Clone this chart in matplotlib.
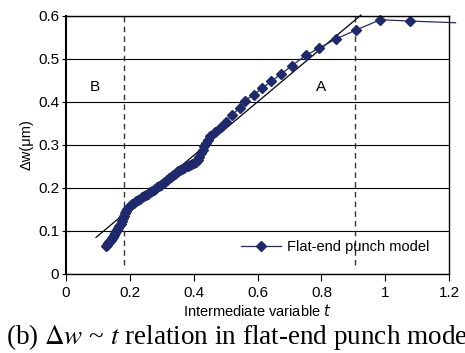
import matplotlib
matplotlib.use('Agg')
import matplotlib.pyplot as plt

# intermediate variable t and deflection change (um)
t_vals = [0.125, 0.128, 0.131, 0.134, 0.137, 0.140, 0.143, 0.146, 0.150, 0.153,
          0.156, 0.160, 0.163, 0.167, 0.171, 0.175, 0.178, 0.181, 0.184, 0.188,
          0.192, 0.197, 0.202, 0.208, 0.214, 0.220, 0.226, 0.232, 0.238, 0.244,
          0.250, 0.256, 0.262, 0.268, 0.274, 0.280, 0.286, 0.292, 0.298, 0.304,
          0.310, 0.316, 0.322, 0.328, 0.334, 0.340, 0.346, 0.352, 0.358, 0.364,
          0.370, 0.376, 0.382, 0.388, 0.394, 0.400, 0.406, 0.412, 0.418, 0.423,
          0.428, 0.433, 0.438, 0.444, 0.452, 0.465, 0.484, 0.502, 0.520, 0.544,
          0.560, 0.588, 0.615, 0.643, 0.674, 0.707, 0.750, 0.793, 0.847, 0.908,
          0.984, 1.077, 1.220]
w_vals = [0.065, 0.068, 0.071, 0.074, 0.077, 0.080, 0.083, 0.087, 0.091, 0.095,
          0.099, 0.103, 0.107, 0.111, 0.117, 0.123, 0.129, 0.135, 0.141, 0.147,
          0.152, 0.156, 0.160, 0.163, 0.166, 0.169, 0.172, 0.175, 0.178, 0.181,
          0.184, 0.187, 0.190, 0.193, 0.195, 0.198, 0.201, 0.204, 0.207, 0.211,
          0.214, 0.218, 0.222, 0.226, 0.230, 0.233, 0.236, 0.239, 0.242, 0.245,
          0.247, 0.250, 0.252, 0.254, 0.256, 0.258, 0.261, 0.266, 0.273, 0.281,
          0.289, 0.297, 0.304, 0.312, 0.320, 0.331, 0.342, 0.354, 0.370, 0.386,
          0.403, 0.417, 0.432, 0.448, 0.465, 0.484, 0.508, 0.525, 0.547, 0.567,
          0.591, 0.588, 0.584]

# straight reference line through both regions
fit_t = [0.094, 0.924]
fit_w = [0.085, 0.602]

# boundaries between region B and region A
bounds = [0.181, 0.906]

navy = '#1f2a6e'

plt.rcParams['font.family'] = ['Liberation Sans', 'DejaVu Sans']

fig = plt.figure(figsize=(4.65, 3.53), dpi=100)
ax = fig.add_axes([0.142, 0.224, 0.824, 0.731])

ax.set_xlim(0, 1.2)
ax.set_ylim(0, 0.6)
ax.set_xticks([0, 0.2, 0.4, 0.6, 0.8, 1.0, 1.2])
ax.set_xticklabels(['0', '0.2', '0.4', '0.6', '0.8', '1', '1.2'])
ax.set_yticks([0, 0.1, 0.2, 0.3, 0.4, 0.5, 0.6])
ax.set_yticklabels(['0', '0.1', '0.2', '0.3', '0.4', '0.5', '0.6'])
ax.tick_params(axis='y', direction='inout', length=6, width=0.8,
               labelsize=11, pad=2)
ax.tick_params(axis='x', direction='out', length=5, width=0.8,
               labelsize=11, pad=4)
ax.yaxis.grid(True, color='black', lw=0.8)
ax.set_axisbelow(True)
for s in ax.spines.values():
    s.set_linewidth(1.0)
ax.spines['left'].set_linewidth(1.5)

ax.plot(fit_t, fit_w, color='black', lw=0.9, clip_on=False)
for b in bounds:
    ax.plot([b, b], [0.02, 0.6], color='#333333', lw=1.0, ls=(0, (4, 3)))

n = len(t_vals)
ax.plot(t_vals, w_vals, color=navy, lw=0.9, marker='D', ms=5.2, mfc=navy,
        mec=navy, markevery=list(range(n - 1)), clip_on=False,
        label='Flat-end punch model')

ax.text(0.09, 0.435, 'B', fontsize=11, ha='center', va='center')
ax.text(0.80, 0.435, 'A', fontsize=11, ha='center', va='center')

leg = ax.legend(loc='lower right', bbox_to_anchor=(0.985, 0.025), fontsize=10.5,
                frameon=True, fancybox=False, edgecolor='black', framealpha=0,
                handlelength=2.8, borderpad=0.45, handletextpad=0.4)
leg.get_frame().set_linewidth(0.8)

ax.set_xlabel('Intermediate variable $t$', fontsize=10.5, labelpad=2)
ax.set_ylabel('Δw(μm)', fontsize=10.5, labelpad=3)

# caption runs past the right edge, as in the source figure
fig.text(0.012, 0.025, '(b) $\\Delta w$ ~ $t$ relation in flat-end punch model',
         fontsize=19.5, family='Liberation Serif', ha='left', va='baseline',
         math_fontfamily='stix')

fig.savefig('out.png', dpi=100)
